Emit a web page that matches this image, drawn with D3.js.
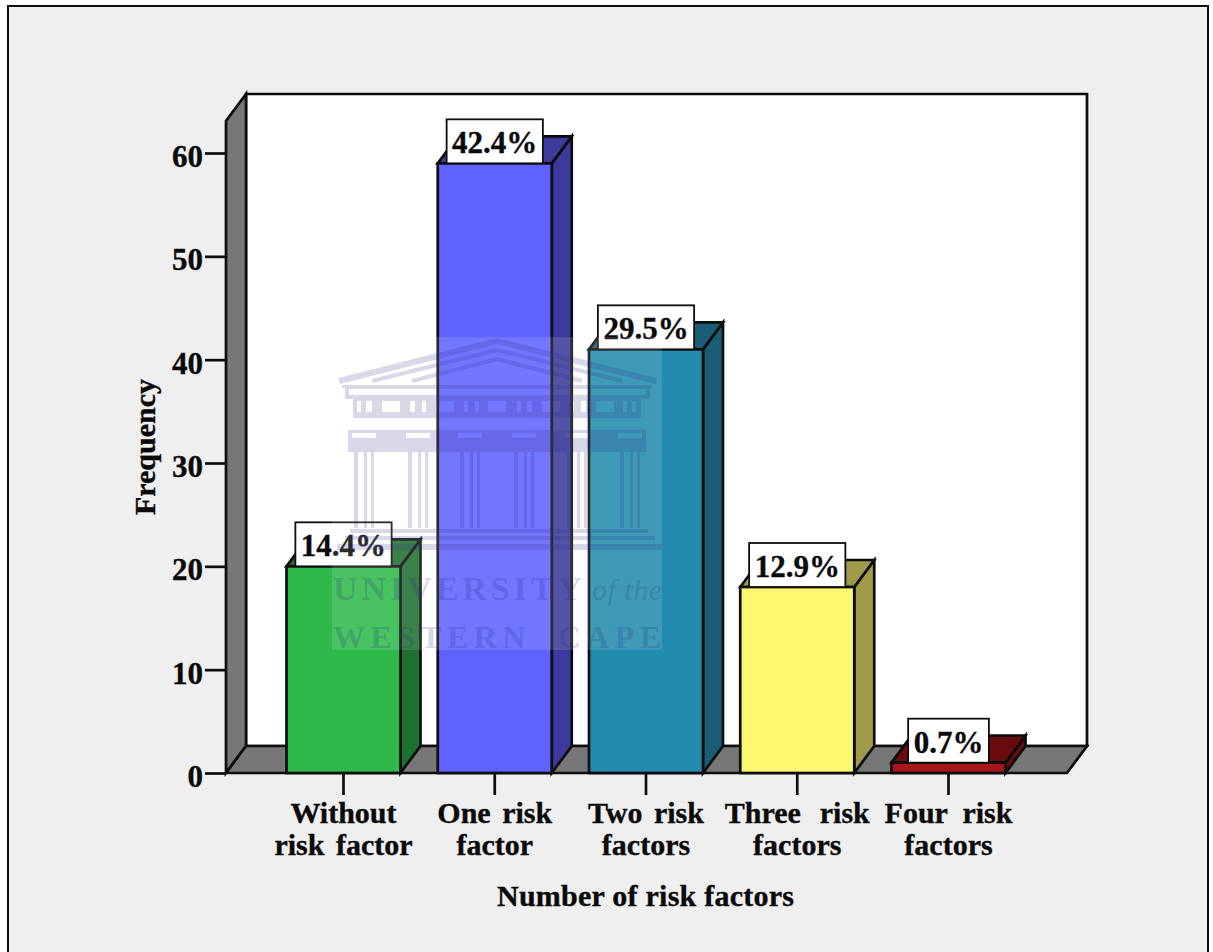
<!DOCTYPE html>
<html>
<head>
<meta charset="utf-8">
<script src="https://cdnjs.cloudflare.com/ajax/libs/d3/7.9.0/d3.min.js"></script>
<style>
  html, body { margin: 0; padding: 0; background: #fff; }
  svg { display: block; }
  text { font-family: "Liberation Serif", serif; font-weight: bold; fill: #0a0a0a; white-space: pre;
         stroke: #0a0a0a; stroke-width: 0.35px; }
</style>
</head>
<body>
<svg id="chart" width="1213" height="952"></svg>
<script>
// Risk factor counts per respondent group
const categories = [
  ["Without", "risk factor"],
  ["One risk", "factor"],
  ["Two risk", "factors"],
  ["Three  risk", "factors"],
  ["Four  risk", "factors"]
];
const frequencies = [20, 59, 41, 18, 1];
const percentLabels = ["14.4%", "42.4%", "29.5%", "12.9%", "0.7%"];
const frontColors = ["#2fb94b", "#5f62ff", "#238cae", "#fcf870", "#a5161a"];
const sideColors = ["#1d7030", "#3a3b9c", "#1a5d75", "#a09b4a", "#6a0c0f"];
const yTicks = [0, 10, 20, 30, 40, 50, 60];
const yTitle = "Frequency";
const xTitle = "Number of risk factors";

const ink = "#0d0d0d";
const depthX = 20, depthY = -27;        // oblique offset of the 3D box
const floorY = 773, plotLeft = 226, plotRight = 1067, wallTop = 121;
const lineWidth = 2.7;

const svg = d3.select("#chart");
const y = d3.scaleLinear().domain([0, 60]).range([floorY, 153]);
const x = d3.scaleBand().domain(d3.range(categories.length))
  .range([plotLeft - 0.5, plotRight - 0.5]).paddingInner(0.2463).paddingOuter(0.4033);

// Chart frame, open at the bottom edge of the page
svg.append("rect").attr("x", 8).attr("y", 6).attr("width", 1200).attr("height", 960)
  .attr("fill", "#efefef").attr("stroke", ink).attr("stroke-width", 2);

const poly = (pts, fill) => svg.append("polygon")
  .attr("points", pts.map(p => p.join(",")).join(" "))
  .attr("fill", fill).attr("stroke", ink).attr("stroke-width", lineWidth).attr("stroke-linejoin", "miter");

// Back wall, side wall and floor
poly([[plotLeft + depthX, wallTop + depthY], [plotRight + depthX, wallTop + depthY],
      [plotRight + depthX, floorY + depthY], [plotLeft + depthX, floorY + depthY]], "#ffffff");
poly([[plotLeft, floorY], [plotLeft + depthX, floorY + depthY],
      [plotLeft + depthX, wallTop + depthY], [plotLeft, wallTop]], "#777777");
poly([[plotLeft, floorY], [plotRight, floorY],
      [plotRight + depthX, floorY + depthY], [plotLeft + depthX, floorY + depthY]], "#777777");

// Axes
const yAxis = svg.append("g").attr("transform", `translate(${plotLeft},0)`)
  .call(d3.axisLeft(y).tickValues(yTicks).tickSize(21).tickPadding(2));
yAxis.select(".domain").remove();
yAxis.selectAll("line").attr("stroke", ink).attr("stroke-width", lineWidth);
yAxis.selectAll("text").style("font-size", "31px").attr("font-family", null).attr("fill", null).attr("dy", "0.44em");

const xAxis = svg.append("g").attr("transform", `translate(0,${floorY})`)
  .call(d3.axisBottom(x).tickSize(22).tickPadding(0).tickFormat(() => ""));
xAxis.select(".domain").remove();
xAxis.selectAll("line").attr("stroke", ink).attr("stroke-width", lineWidth);

// Two-line category labels
categories.forEach((lines, i) => {
  const t = svg.append("text").attr("text-anchor", "middle").style("font-size", "30px")
    .style("word-spacing", (i < 3 ? 4 : i === 3 ? 2 : 0) + "px");
  lines.forEach((line, k) => {
    t.append("tspan").attr("x", x(i) + x.bandwidth() / 2)
      .attr("y", 823 + k * 32).text(line);
  });
});

// 3D bars
frequencies.forEach((v, i) => {
  const l = x(i), r = l + x.bandwidth(), t = y(v);
  poly([[r, t], [r + depthX, t + depthY], [r + depthX, floorY + depthY], [r, floorY]], sideColors[i]);
  poly([[l, t], [l + depthX, t + depthY], [r + depthX, t + depthY], [r, t]], sideColors[i]);
  svg.append("rect").attr("x", l).attr("y", t).attr("width", x.bandwidth()).attr("height", y(0) - t)
    .attr("fill", frontColors[i]).attr("stroke", ink).attr("stroke-width", lineWidth);
});

// Percent labels sitting on the bar tops; each box is sized to its text
percentLabels.forEach((label, i) => {
  const cx = x(i) + x.bandwidth() / 2, t = y(frequencies[i]);
  const box = svg.append("rect");
  const txt = svg.append("text").attr("x", cx).attr("y", t - 10).attr("text-anchor", "middle")
    .style("font-size", "31px").text(label);
  const w = txt.node().getComputedTextLength() + 11;
  box.attr("x", cx - w / 2).attr("y", t - 44).attr("width", w).attr("height", 44)
    .attr("fill", "#ffffff").attr("stroke", ink).attr("stroke-width", 1.8);
});

// Axis titles
svg.append("text").attr("transform", "translate(155,447) rotate(-90)").attr("text-anchor", "middle")
  .style("font-size", "30px").text(yTitle);
svg.append("text").attr("x", 645.5).attr("y", 906).attr("text-anchor", "middle")
  .attr("textLength", 297).attr("lengthAdjust", "spacing")
  .style("font-size", "30px").text(xTitle);

// University crest laid over the whole plot
const defs = svg.append("defs");
defs.append("filter").attr("id", "crestSoft").append("feGaussianBlur").attr("stdDeviation", 0.6);

const crest = svg.append("g");
crest.append("rect").attr("x", 332).attr("y", 337).attr("width", 330).attr("height", 313)
  .attr("fill", "#ffffff").attr("opacity", 0.13);
const shade = crest.append("g").attr("fill", "#1a2a80").attr("fill-opacity", 0.18).attr("filter", "url(#crestSoft)");
const crestPath = d => shade.append("path").attr("d", d).attr("fill-rule", "evenodd");
const crestRoof = (d, width) => shade.append("path").attr("d", d).attr("fill", "none")
  .attr("stroke", "#1a2a80").attr("stroke-opacity", 0.18).attr("stroke-width", width);

// Pediment: three nested bands above the cornice line
crestRoof("M339 381 L497 341 L656 381", 6);
crestRoof("M372 381 L497 350 L622 381", 4);
crestRoof("M412 381 L497 359 L582 381", 4);
crestPath("M342 385 H653 V388 H342 Z");
// Cornice and frieze with its triglyph openings
crestPath("M345 388 H650 V399 H345 Z M349 389 H646 V395 H349 Z");
crestPath("M353 399 H641 V414 H353 Z M357 401 H361 V412 H357 Z M366 401 H372 V412 H366 Z M382 401 H400 V412 H382 Z M410 401 H415 V412 H410 Z M422 401 H426 V412 H422 Z M436 401 H454 V412 H436 Z M464 401 H468 V412 H464 Z M475 401 H479 V412 H475 Z M488 401 H506 V412 H488 Z M517 401 H521 V412 H517 Z M527 401 H532 V412 H527 Z M542 401 H560 V412 H542 Z M570 401 H574 V412 H570 Z M581 401 H586 V412 H581 Z M596 401 H614 V412 H596 Z M623 401 H627 V412 H623 Z M632 401 H636 V412 H632 Z");
// Architrave and lintel band
crestPath("M353 414 H641 V418 H353 Z");
crestPath("M348 430 H646 V452 H348 Z M352 433 H376 V438 H352 Z M406 433 H430 V438 H406 Z M458 433 H482 V438 H458 Z M512 433 H536 V438 H512 Z M565 433 H589 V438 H565 Z M618 433 H642 V438 H618 Z");
// Column shafts
[[354, 374], [408, 428], [460, 480], [514, 534], [567, 587], [620, 640]].forEach(([a, b]) => {
  crestPath(`M${a} 452 H${b} V528 H${a} Z M${a + 4} 452 H${a + 10} V528 H${a + 4} Z M${a + 13} 452 H${b - 3} V528 H${a + 13} Z`);
});
// Stepped base
crestPath("M350 529 H648 V533 H350 Z");
crestPath("M345 536 H655 V540 H345 Z");
crestPath("M337 544 H662 V550 H337 Z");

// Crest wording
const crestText = (content, xPos, yPos, len, size, italic) => crest.append("text")
  .attr("x", xPos).attr("y", yPos).attr("textLength", len).attr("lengthAdjust", "spacing")
  .style("font-size", size + "px").style("font-weight", italic ? "normal" : "bold")
  .style("font-style", italic ? "italic" : "normal").style("stroke", "none")
  .style("fill", "#1a2a80").style("fill-opacity", 0.2).text(content);
crestText("UNIVERSITY", 333, 600, 249, 34, false);
crestText("of the", 592, 600, 70, 30, true);
crestText("WESTERN  CAPE", 333, 648, 328, 32, false);
</script>
</body>
</html>
